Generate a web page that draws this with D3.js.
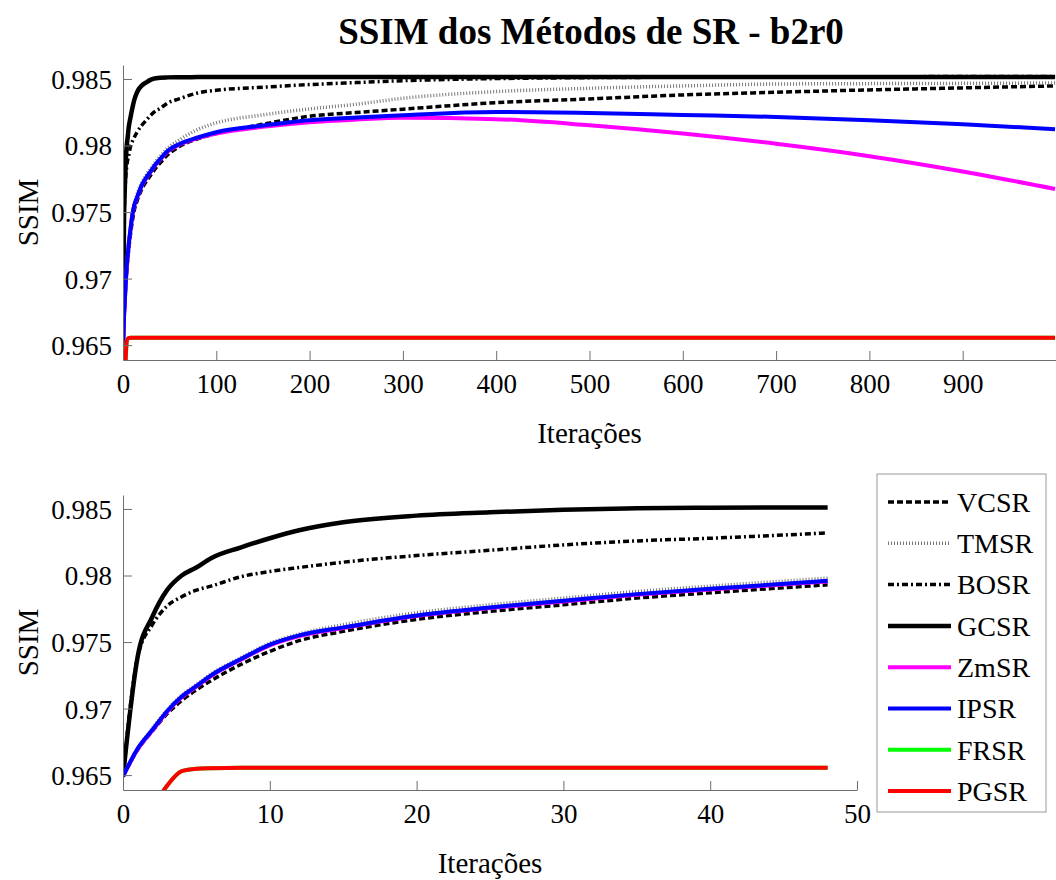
<!DOCTYPE html>
<html>
<head>
<meta charset="utf-8">
<script src="https://cdn.jsdelivr.net/npm/d3@7"></script>
<style>
  body { margin: 0; background: #fff; }
  svg { display: block; }
  text { font-family: 'Liberation Serif', 'DejaVu Serif', 'Times New Roman', serif; }
</style>
</head>
<body>
<div id="chart"></div>
<script>
const iters = [0, 1, 2, 3, 4, 5, 6, 8, 10, 12, 15, 20, 25, 30, 35, 40, 48,
               60, 80, 100, 150, 200, 250, 300, 400, 500, 600, 700, 800, 900, 999];

const VCSR = [0.9649, 0.9669, 0.9683, 0.9696, 0.9706, 0.9714, 0.9721, 0.9733, 0.9743, 0.9751, 0.9758, 0.9767, 0.9773, 0.9778, 0.9783, 0.9787, 0.9793,
              0.9799, 0.9805, 0.9809, 0.9816, 0.9822, 0.98248, 0.98273, 0.98322, 0.9835, 0.9838, 0.984, 0.98418, 0.98433, 0.98448];
const TMSR = [0.9649, 0.9670, 0.9685, 0.9699, 0.9710, 0.9718, 0.9726, 0.9738, 0.9749, 0.9756, 0.9763, 0.9772, 0.9778, 0.9783, 0.9788, 0.9792, 0.9798,
              0.9804, 0.9812, 0.9817, 0.9823, 0.98275, 0.9831, 0.98355, 0.98405, 0.9843, 0.98448, 0.98462, 0.98465, 0.98467, 0.9847];
const BOSR = [0.9649, 0.9739, 0.9763, 0.9777, 0.9784, 0.9789, 0.9792, 0.9799, 0.9803, 0.9806, 0.9810, 0.9815, 0.9819, 0.9823, 0.9826, 0.9828, 0.9832,
              0.9835, 0.98395, 0.98415, 0.98438, 0.98458, 0.98473, 0.98487, 0.98503, 0.9851, 0.98513, 0.98515, 0.98517, 0.98518, 0.98519];
const GCSR = [0.9649, 0.9739, 0.9769, 0.9789, 0.9800, 0.9806, 0.9813, 0.9821, 0.9828, 0.9834, 0.9840, 0.9845, 0.98475, 0.98495, 0.98505, 0.9851, 0.98512,
              0.98513, 0.98514, 0.98515, 0.98515, 0.98515, 0.98515, 0.98515, 0.98515, 0.98515, 0.98515, 0.98515, 0.98515, 0.98515, 0.98515];
const ZmSR = [0.9649, 0.96695, 0.96835, 0.96975, 0.97085, 0.97165, 0.97245, 0.97365, 0.97475, 0.97545, 0.97605, 0.97695, 0.97755, 0.97805, 0.97855, 0.97895, 0.97955,
              0.98005, 0.98055, 0.9809, 0.9814, 0.98175, 0.98195, 0.98208, 0.98198, 0.98152, 0.9809, 0.98013, 0.9792, 0.97805, 0.97673];
const IPSR = [0.9649, 0.9670, 0.9684, 0.9698, 0.9709, 0.9717, 0.9725, 0.9737, 0.9748, 0.9755, 0.9761, 0.9770, 0.9776, 0.9781, 0.9786, 0.9790, 0.9796,
              0.9801, 0.9806, 0.9810, 0.9815, 0.9819, 0.9821, 0.98228, 0.98252, 0.98245, 0.9823, 0.98215, 0.9819, 0.9816, 0.98123];
const FRSR = [0.9585, 0.9605, 0.9625, 0.9642, 0.9653, 0.96548, 0.96552, 0.96555, 0.96555, 0.96555, 0.96555, 0.96555, 0.96555, 0.96555, 0.96555, 0.96555, 0.96555,
              0.96555, 0.96555, 0.96555, 0.96555, 0.96555, 0.96555, 0.96555, 0.96555, 0.96555, 0.96555, 0.96555, 0.96555, 0.96555, 0.96555];
const PGSR = [0.9585, 0.9605, 0.9625, 0.9642, 0.9653, 0.96548, 0.96552, 0.96555, 0.96555, 0.96555, 0.96555, 0.96555, 0.96555, 0.96555, 0.96555, 0.96555, 0.96555,
              0.96555, 0.96555, 0.96555, 0.96555, 0.96555, 0.96555, 0.96555, 0.96555, 0.96555, 0.96555, 0.96555, 0.96555, 0.96555, 0.96555];

const methodNames = ['VCSR', 'TMSR', 'BOSR', 'GCSR', 'ZmSR', 'IPSR', 'FRSR', 'PGSR'];
const methodValues = [VCSR, TMSR, BOSR, GCSR, ZmSR, IPSR, FRSR, PGSR];

const yTicks = [0.965, 0.97, 0.975, 0.98, 0.985];
const yTickLabels = ['0.965', '0.97', '0.975', '0.98', '0.985'];
const topXTicks = [0, 100, 200, 300, 400, 500, 600, 700, 800, 900];
const bottomXTicks = [0, 10, 20, 30, 40, 50];

const titleText = 'SSIM dos Métodos de SR - b2r0';
const xLabel = 'Iterações';
const yLabel = 'SSIM';

// line styles, in plot order
const styles = {
    VCSR: { color: '#000', width: 3.5, dash: '6,3' },
    TMSR: { color: '#777', width: 3.5, dash: '1,2' },
    BOSR: { color: '#000', width: 3.5, dash: '6,3,2,3' },
    GCSR: { color: '#000', width: 4.5, dash: null },
    ZmSR: { color: '#ff00ff', width: 4, dash: null },
    IPSR: { color: '#0000ff', width: 4, dash: null },
    FRSR: { color: '#00ff00', width: 4, dash: null },
    PGSR: { color: '#ff0000', width: 4, dash: null }
};

const series = methodNames.map((name, i) => ({
    name,
    points: iters.map((it, j) => ({ x: it, y: methodValues[i][j] }))
}));

const width = 1056, height = 880;
const axisColor = '#6e6e6e';
const fontFamily = "'Liberation Serif', 'DejaVu Serif', 'Times New Roman', serif";
const tickSize = 27;
const labelSize = 29;

const svg = d3.select('#chart').append('svg')
    .attr('width', width)
    .attr('height', height)
    .style('font-family', fontFamily);

svg.append('text')
    .attr('x', 591)
    .attr('y', 44)
    .attr('text-anchor', 'middle')
    .attr('font-size', 37)
    .attr('font-weight', 'bold')
    .text(titleText);

function drawPanel(id, box, xMax, xTicks, maxIter) {
    const x = d3.scaleLinear().domain([0, xMax]).range([box.left, box.right]);
    const y = d3.scaleLinear().domain([0.96388, 0.98605]).range([box.bottom, box.top]);

    svg.append('clipPath').attr('id', id)
        .append('rect')
        .attr('x', box.left).attr('y', box.top)
        .attr('width', box.right - box.left).attr('height', box.bottom - box.top);

    const line = d3.line()
        .x(d => x(d.x))
        .y(d => y(d.y))
        .curve(d3.curveMonotoneX);

    svg.append('g')
        .attr('clip-path', `url(#${id})`)
        .selectAll('path')
        .data(series)
        .join('path')
        .attr('fill', 'none')
        .attr('d', d => line(d.points.filter(p => p.x <= maxIter)))
        .attr('stroke', d => styles[d.name].color)
        .attr('stroke-width', d => styles[d.name].width)
        .attr('stroke-dasharray', d => styles[d.name].dash);

    const xAxis = svg.append('g')
        .attr('transform', `translate(0,${box.bottom})`)
        .call(d3.axisBottom(x).tickValues(xTicks).tickFormat(d3.format('d'))
            .tickSizeInner(-9).tickSizeOuter(0).tickPadding(14));
    const yAxis = svg.append('g')
        .attr('transform', `translate(${box.left},0)`)
        .call(d3.axisLeft(y).tickValues(yTicks).tickFormat((d, i) => yTickLabels[i])
            .tickSizeInner(-9).tickSizeOuter(0).tickPadding(11));

    [xAxis, yAxis].forEach(g => {
        g.attr('font-family', fontFamily).attr('font-size', tickSize);
        g.selectAll('.domain, .tick line').attr('stroke', axisColor);
        g.selectAll('text').attr('fill', '#000');
    });
    yAxis.selectAll('text').attr('dy', '0.35em');

    svg.append('text')
        .attr('x', (box.left + Math.min(box.right, width)) / 2)
        .attr('y', box.bottom + 83)
        .attr('text-anchor', 'middle')
        .attr('font-size', labelSize)
        .text(xLabel);

    svg.append('text')
        .attr('transform', `translate(38,${(box.top + box.bottom) / 2}) rotate(-90)`)
        .attr('text-anchor', 'middle')
        .attr('font-size', labelSize)
        .text(yLabel);
}

drawPanel('clipTop', { left: 123, right: 1056, top: 65, bottom: 360 }, 1000, topXTicks, 1000);
drawPanel('clipBottom', { left: 123, right: 857, top: 495, bottom: 790 }, 50, bottomXTicks, 48);

// legend
const legend = svg.append('g');
legend.append('rect')
    .attr('x', 877).attr('y', 474)
    .attr('width', 169).attr('height', 338)
    .attr('fill', '#fff')
    .attr('stroke', '#999');

const entry = legend.selectAll('g.entry')
    .data(methodNames)
    .join('g')
    .attr('class', 'entry')
    .attr('transform', (d, i) => `translate(0,${502 + i * 41.3})`);

entry.append('line')
    .attr('x1', 888).attr('x2', 951)
    .attr('stroke', d => styles[d].color)
    .attr('stroke-width', d => styles[d].width)
    .attr('stroke-dasharray', d => styles[d].dash);

entry.append('text')
    .attr('x', 957)
    .attr('dy', '0.35em')
    .attr('font-size', 28)
    .text(d => d);
</script>
</body>
</html>
